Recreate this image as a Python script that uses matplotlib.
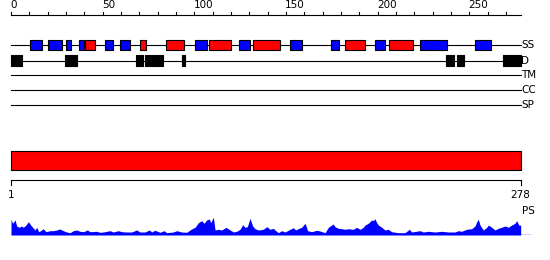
"""Domain/feature track overview for a 278-residue sequence."""

import matplotlib
matplotlib.use("Agg")
import matplotlib.pyplot as plt
import numpy as np

seq_len = 278

# secondary structure segments (start, end) in residues
ss_helix = [(40.5, 45.7), (70.5, 73.5), (84.4, 94.5), (108.2, 120.2), (132.2, 146.6),
            (182.3, 193.2), (206.3, 219.4)]
ss_strand = [(10.5, 16.7), (20.3, 27.7), (30.2, 32.6), (37.1, 39.7), (51.4, 55.5),
             (59.6, 64.7), (100.5, 106.7), (124.5, 130.5), (152.3, 158.6), (174.7, 178.7),
             (198.7, 203.8), (223.2, 237.6), (253.2, 261.6)]
# disorder segments
disorder = [(0, 5.8), (29.6, 35.8), (68.3, 71.8), (73.1, 75.8), (76.5, 82.7), (93.3, 94.7),
            (237.3, 240.0), (240.6, 241.8), (243.2, 247.0), (268.3, 278)]

track_names = ["SS", "D", "TM", "CC", "SP"]
top_ticks = list(range(0, 271, 10))
top_labels = [0, 50, 100, 150, 200, 250]

# PS profile (residue, score)
ps_res = [0, 0.9, 2.2, 3.1, 4.5, 5.8, 6.7, 8.2, 9.5, 10.7, 11.8, 13.1, 14, 15.1, 16.2, 17.6,
          19.1, 21.3, 23.1, 24.9, 26.7, 28.5, 30.4, 32.2, 34, 35.8, 37.6, 39.5, 41.6, 43.1,
          46.7, 48.5, 50.4, 54, 55.8, 58.5, 60.4, 63.1, 65.8, 68.5, 70.4, 73.1, 75.5, 76.7,
          78.5, 81.3, 83.5, 84.9, 88.5, 90.4, 93.1, 95.8, 98.5, 100.4, 102.2, 104, 105.3,
          106.7, 108.2, 108.9, 110.4, 111.3, 113.1, 114.9, 117.3, 119.5, 121.3, 123.1, 124.9,
          126.4, 127.6, 128.9, 130.4, 131.8, 133.1, 134.9, 137.6, 139.5, 141.3, 143.1, 144,
          145.8, 147.6, 149.5, 152.2, 154, 155.3, 156.7, 158.5, 160.4, 161.8, 164, 166.7,
          168.5, 171.3, 173.1, 174.9, 175.8, 176.7, 178.5, 180.4, 182.2, 184, 186.7, 188.5,
          190.4, 192.2, 193.1, 194.9, 196.7, 197.6, 198.5, 199.5, 200.4, 202.2, 204, 205.8,
          207.6, 211.3, 214.9, 217.3, 218.5, 223.1, 224.9, 227.6, 231.3, 234.9, 238.5, 242.2,
          244, 245.8, 248.5, 251.3, 253.1, 254, 254.9, 255.8, 257.6, 259.5, 260.4, 262.2,
          264, 265.8, 267.6, 269.5, 271.3, 273.1, 274.9, 275.8, 277.1, 278, 278]
ps_score = [15.7, 11.7, 15, 9, 7.7, 9, 7.7, 10, 13.3, 10, 7.7, 5, 7.7, 3.3, 4.3, 6.3,
            3.3, 4.3, 4.3, 5, 6, 4.3, 3, 2.3, 4.3, 5, 3.7, 3.3, 5, 3.3,
            3.7, 2.7, 3, 4.3, 3, 4.3, 3.3, 3, 3, 5, 3, 3, 5, 3,
            4.7, 2.7, 4.3, 2.3, 3, 4.3, 3, 2.7, 6, 7.7, 12.3, 14.3, 11.7,
            15, 16, 12.3, 17.7, 5, 5.7, 5, 7.7, 5, 3, 3.7, 5.7,
            10.3, 7.7, 8.3, 16.7, 9, 6.3, 5, 5.7, 8.3, 5.7, 6.7, 5,
            2.3, 4.3, 3, 5.7, 7.3, 5, 6.3, 7.7, 11.7, 4.3, 3.3, 4.7,
            4, 2.3, 7.7, 10, 11, 8.3, 6.7, 6.3, 5.7, 6.3, 5.7, 7.7,
            5.7, 7.7, 10, 11.7, 15, 14.3, 16.3, 12.3, 10, 7.7, 5, 5.7,
            3.3, 2.3, 2.3, 5.7, 3, 4.3, 3, 3.7, 3, 3.7, 3, 3,
            4.3, 3.7, 5.7, 6.3, 9, 13, 15.7, 10, 5, 7.7, 10, 7.7,
            5, 6.7, 7.7, 9, 7.7, 10, 11.7, 14.3, 9.7, 10, 0]
ps_line_end = 283

W, H = 550, 260
x_lo, x_hi = -6.0, 294.0  # residue range covering the full figure width


def segs(pairs):
    return [(a, b - a) for a, b in pairs]


fig = plt.figure(figsize=(W / 100, H / 100), dpi=100)
ax = fig.add_axes([0, 0, 1, 1])
ax.set_xlim(x_lo, x_hi)
ax.set_ylim(H, 0)
ax.axis("off")

lw = 0.8
fs = 7.5

# top ruler
ax.plot([0, seq_len], [15, 15], color="black", lw=lw)
for t in top_ticks:
    ax.plot([t, t], [12, 15], color="black", lw=lw)
for t in top_labels:
    ax.text(t - 0.5, 10.5, str(t), ha="left", va="bottom", fontsize=fs)

# feature tracks
row_y = [45, 60.5, 75, 90, 105]
for name, y in zip(track_names, row_y):
    ax.plot([0, seq_len], [y, y], color="black", lw=lw, zorder=1)
    ax.text(seq_len + 0.3, y, name, ha="left", va="center", fontsize=fs)

ax.broken_barh(segs(ss_strand), (40.3, 10), facecolors="#0000ff", edgecolors="black",
               linewidth=lw, zorder=2)
ax.broken_barh(segs(ss_helix), (40.3, 10), facecolors="#ff0000", edgecolors="black",
               linewidth=lw, zorder=2)
ax.broken_barh(segs(disorder), (55.3, 10.6), facecolors="black", edgecolors="black",
               linewidth=lw, zorder=2)

# full-length domain bar
ax.broken_barh([(0, seq_len)], (150.7, 19.3), facecolors="#ff0000", edgecolors="black",
               linewidth=lw)

# bottom ruler
ax.plot([0, seq_len], [180, 180], color="black", lw=lw)
ax.plot([0, 0], [180, 185], color="black", lw=lw)
ax.plot([seq_len, seq_len], [180, 185], color="black", lw=lw)
ax.text(0, 195, "1", ha="center", va="center", fontsize=fs)
ax.text(seq_len, 195, str(seq_len), ha="center", va="center", fontsize=fs)
ax.text(seq_len + 0.5, 211, "PS", ha="left", va="center", fontsize=fs)

# PS profile
ax_ps = fig.add_axes([0, (H - 235) / H, 1, 20 / H])
ax_ps.set_xlim(x_lo, x_hi)
ax_ps.set_ylim(0, 20)
ax_ps.axis("off")
ax_ps.fill_between(ps_res, 0, ps_score, color="#0000ff", lw=0)
ax_ps.plot([0, ps_line_end], [0, 0], color="#0000ff", lw=1)

fig.savefig("out.png", dpi=100)
